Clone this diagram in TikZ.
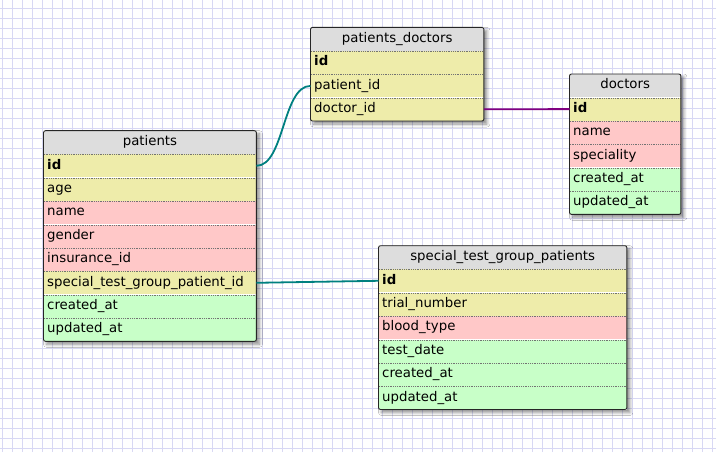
\documentclass[tikz,border=0pt]{standalone}
\usepackage{fontspec}
\setmainfont{DejaVu Sans}
\usetikzlibrary{positioning,fit,backgrounds,shadows.blur}

\definecolor{gridcol}{RGB}{216,216,244}
\definecolor{headcol}{RGB}{221,221,221}
\definecolor{keycol}{RGB}{238,236,170}
\definecolor{strcol}{RGB}{255,200,200}
\definecolor{datecol}{RGB}{200,255,200}
\definecolor{tealcol}{RGB}{0,128,128}
\definecolor{purplecol}{RGB}{128,0,128}

\tikzset{
  gridline/.style={gridcol, line width=1pt},
  tablehead/.style={fill=headcol, minimum height=23pt, inner xsep=3.5pt, inner ysep=0pt,
    text height=9.5pt, text depth=3pt, align=center, font=\fontsize{13.3}{15}\selectfont},
  field/.style={minimum height=23pt, inner xsep=3.5pt, inner ysep=0pt,
    text height=9.5pt, text depth=3pt, align=left, font=\fontsize{13.3}{15}\selectfont,
    path picture={\draw[black!55, densely dotted, line width=0.8pt]
      ([yshift=-0.4pt]path picture bounding box.north west) --
      ([yshift=-0.4pt]path picture bounding box.north east);}},
  keyrow/.style={field, fill=keycol},
  strrow/.style={field, fill=strcol},
  daterow/.style={field, fill=datecol},
  tableback/.style={fill=white, inner sep=0pt,
    blur shadow={shadow xshift=3pt, shadow yshift=-3pt, shadow blur steps=6,
      shadow blur radius=3pt, shadow opacity=45}},
  tableborder/.style={draw=black!85, line width=0.9pt, rounded corners=2pt, inner sep=0pt},
  tealline/.style={tealcol, line width=1.8pt},
  purpleline/.style={purplecol, line width=1.8pt},
}

\begin{document}
\begin{tikzpicture}[x=1pt,y=-1pt]
\useasboundingbox (0,0) rectangle (716,452);

% grid paper
\begin{scope}[on background layer]
\fill[white] (0,0) rectangle (716,452);
\foreach \gx in {2.5,12.5,...,712.5}
  \draw[gridline] (\gx,0) -- (\gx,452);
\foreach \gy in {8.5,18.5,...,448.5}
  \draw[gridline] (0,\gy) -- (716,\gy);
\end{scope}

% patients
\begin{scope}[every node/.append style={text width=205.5pt}]
\node[tablehead, anchor=north west] (pat) at (43.5,130.7) {patients};
\node[keyrow, below=0pt of pat] (pat-id) {\textbf{id}};
\node[keyrow, below=0pt of pat-id] (pat-age) {age};
\node[strrow, below=0pt of pat-age] (pat-name) {name};
\node[strrow, below=0pt of pat-name] (pat-gen) {gender};
\node[strrow, below=0pt of pat-gen] (pat-ins) {insurance\_id};
\node[keyrow, below=0pt of pat-ins] (pat-stg) {special\_test\_group\_patient\_id};
\node[daterow, below=0pt of pat-stg] (pat-cre) {created\_at};
\node[daterow, below=0pt of pat-cre] (pat-upd) {updated\_at};
\end{scope}

% patients_doctors
\begin{scope}[every node/.append style={text width=166pt}]
\node[tablehead, anchor=north west] (pd) at (310.5,27.4) {patients\_doctors};
\node[keyrow, below=0pt of pd] (pd-id) {\textbf{id}};
\node[keyrow, below=0pt of pd-id] (pd-pat) {patient\_id};
\node[keyrow, below=0pt of pd-pat] (pd-doc) {doctor\_id};
\end{scope}

% doctors
\begin{scope}[every node/.append style={text width=104pt}]
\node[tablehead, anchor=north west] (doc) at (569.5,74) {doctors};
\node[keyrow, below=0pt of doc] (doc-id) {\textbf{id}};
\node[strrow, below=0pt of doc-id] (doc-name) {name};
\node[strrow, below=0pt of doc-name] (doc-spec) {speciality};
\node[daterow, below=0pt of doc-spec] (doc-cre) {created\_at};
\node[daterow, below=0pt of doc-cre] (doc-upd) {updated\_at};
\end{scope}

% special_test_group_patients
\begin{scope}[every node/.append style={text width=241pt}]
\node[tablehead, anchor=north west] (stg) at (378.5,245.7) {special\_test\_group\_patients};
\node[keyrow, below=0pt of stg] (stg-id) {\textbf{id}};
\node[keyrow, below=0pt of stg-id] (stg-trial) {trial\_number};
\node[strrow, below=0pt of stg-trial] (stg-blood) {blood\_type};
\node[daterow, below=0pt of stg-blood] (stg-date) {test\_date};
\node[daterow, below=0pt of stg-date] (stg-cre) {created\_at};
\node[daterow, below=0pt of stg-cre] (stg-upd) {updated\_at};
\end{scope}

% frames with shadows
\begin{scope}[on background layer]
\node[tableback, fit=(pat) (pat-upd)] (pat-back) {};
\node[tableback, fit=(pd) (pd-doc)] (pd-back) {};
\node[tableback, fit=(doc) (doc-upd)] (doc-back) {};
\node[tableback, fit=(stg) (stg-upd)] (stg-back) {};
\end{scope}
\node[tableborder, fit=(pat) (pat-upd)] (pat-box) {};
\node[tableborder, fit=(pd) (pd-doc)] (pd-box) {};
\node[tableborder, fit=(doc) (doc-upd)] (doc-box) {};
\node[tableborder, fit=(stg) (stg-upd)] (stg-box) {};

% relations
\draw[tealline] (pat-id.east) .. controls +(28,0) and +(-28,0) .. (pd-pat.west);
\draw[purpleline] (pd-doc.east) -- (doc-id.west);
\draw[tealline] (pat-stg.east) -- (stg-id.west);
\end{tikzpicture}
\end{document}
